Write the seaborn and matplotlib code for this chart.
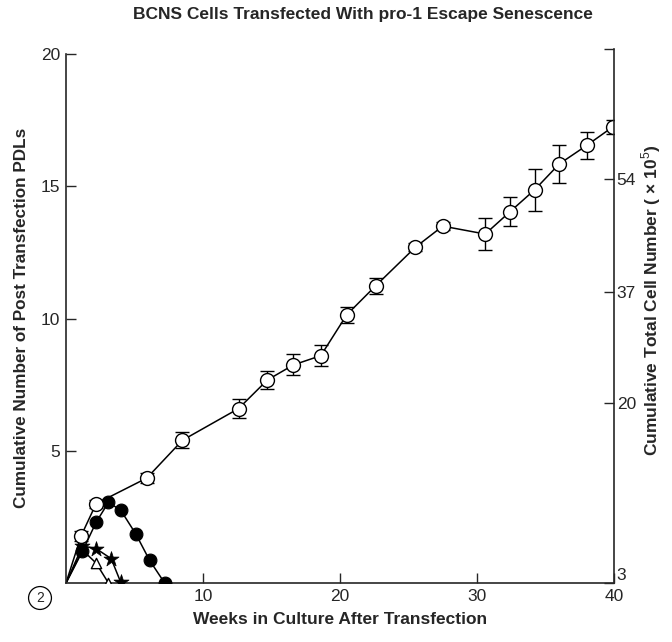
import numpy as np
import pandas as pd
import matplotlib
matplotlib.use("Agg")
import matplotlib.pyplot as plt
import seaborn as sns

# ---- data ----
open_weeks = [1.1, 2.2, 5.9, 8.5, 12.6, 14.7, 16.6, 18.6, 20.5, 22.6, 25.5, 27.5, 30.6, 32.4, 34.2, 36.0, 38.0, 39.9]
open_pdl = [1.78, 3.0, 3.97, 5.4, 6.6, 7.68, 8.25, 8.6, 10.15, 11.24, 12.7, 13.5, 13.2, 14.04, 14.87, 15.85, 16.55, 17.25]
open_err = [0.2, 0.15, 0.2, 0.3, 0.35, 0.35, 0.4, 0.4, 0.3, 0.3, 0.15, 0.15, 0.6, 0.55, 0.8, 0.7, 0.5, 0.25]

filled_weeks = [1.2, 2.2, 3.1, 4.0, 5.1, 6.1, 7.2]
filled_pdl = [1.2, 2.3, 3.05, 2.75, 1.85, 0.86, 0.0]

star_weeks = [1.2, 2.2, 3.3, 4.0]
star_pdl = [1.4, 1.3, 0.92, 0.02]

tri_weeks = [1.2, 2.2, 3.1]
tri_pdl = [1.25, 0.75, 0.0]

x_ticks = [10, 20, 30, 40]
left_ticks = [5, 10, 15, 20]
right_tick_pos = [0, 6.8, 11.0, 15.3, 20.2]
right_labels = ["3", "20", "37", "54", ""]

title = "BCNS Cells Transfected With pro-1 Escape Senescence"
xlabel = "Weeks in Culture After Transfection"
ylabel_left = "Cumulative Number of Post Transfection PDLs"
ylabel_right = "Cumulative Total Cell Number ( \u00d7 10$^5$)"

sns.set_style("ticks")
plt.rcParams["font.family"] = ["Liberation Sans", "DejaVu Sans"]
plt.rcParams["mathtext.fontset"] = "custom"
plt.rcParams["mathtext.rm"] = "Liberation Sans"

fig = plt.figure(figsize=(6.72, 6.42), dpi=100)
ax = fig.add_axes([66 / 672, 59 / 642, (614 - 66) / 672, (583 - 49) / 642])

def series(weeks, vals):
    return pd.DataFrame({"w": [0.0] + list(weeks), "v": [0.0] + list(vals)})

lw = 1.1
for wk, vv in [(open_weeks, open_pdl), (filled_weeks, filled_pdl), (star_weeks, star_pdl), (tri_weeks, tri_pdl)]:
    sns.lineplot(data=series(wk, vv), x="w", y="v", ax=ax, color="black", lw=lw,
                 sort=False, estimator=None, zorder=2)

# error bars on open-circle series
ax.errorbar(open_weeks, open_pdl, yerr=open_err, fmt="none", ecolor="black",
            elinewidth=1.0, capsize=5, capthick=1.0, zorder=3)

sns.scatterplot(x=tri_weeks, y=tri_pdl, ax=ax, marker="^", s=55, facecolor="white",
                edgecolor="black", linewidth=1.0, zorder=4)
sns.scatterplot(x=star_weeks, y=star_pdl, ax=ax, marker="*", s=130, color="black",
                edgecolor="black", linewidth=0.5, zorder=5)
sns.scatterplot(x=filled_weeks, y=filled_pdl, ax=ax, marker="o", s=85, color="black",
                edgecolor="black", linewidth=0.8, zorder=6)
sns.scatterplot(x=open_weeks, y=open_pdl, ax=ax, marker="o", s=100, facecolor="white",
                edgecolor="black", linewidth=1.0, zorder=7)

ax.set_xlim(0, 40)
ax.set_ylim(0, 20.2)
ax.spines["left"].set_bounds(0, 20)
ax.set_xticks(x_ticks)
ax.set_xticklabels([str(t) for t in x_ticks], fontsize=12.5)
ax.set_yticks(left_ticks)
ax.set_yticklabels([str(t) for t in left_ticks], fontsize=12.5)
ax.tick_params(direction="in", length=7, width=1.0, pad=4)
ax.set_xlabel("")
ax.set_ylabel("")
for s in ["left", "bottom"]:
    ax.spines[s].set_linewidth(1.2)
ax.spines["top"].set_visible(False)
ax.spines["right"].set_visible(False)

ax2 = ax.twinx()
ax2.set_ylim(0, 20.2)
ax2.set_yticks(right_tick_pos)
ax2.set_yticklabels(right_labels, fontsize=12.5)
ax2.get_yticklabels()[0].set_va("bottom")
ax2.tick_params(direction="in", length=7, width=1.0, pad=2)
ax2.spines["top"].set_visible(False)
ax2.spines["left"].set_visible(False)
ax2.spines["bottom"].set_visible(False)
ax2.spines["right"].set_linewidth(1.2)

fig.text(363 / 672, 1 - 14 / 642, title, ha="center", va="center", fontsize=12.5, fontweight="bold")
fig.text(340 / 672, 1 - 620 / 642, xlabel, ha="center", va="center", fontsize=12.5, fontweight="bold")
fig.text(22 / 672, 1 - 318 / 642, ylabel_left, ha="center", va="center", rotation=90, fontsize=12.3, fontweight="bold")
fig.text(651 / 672, 1 - 300 / 642, ylabel_right, ha="center", va="center", rotation=90, fontsize=12.5, fontweight="bold")
fig.text(40 / 672, 1 - 598 / 642, "2", ha="center", va="center", fontsize=10,
         bbox=dict(boxstyle="circle,pad=0.32", facecolor="white", edgecolor="black", linewidth=0.9))

fig.savefig("out.png", dpi=100)
